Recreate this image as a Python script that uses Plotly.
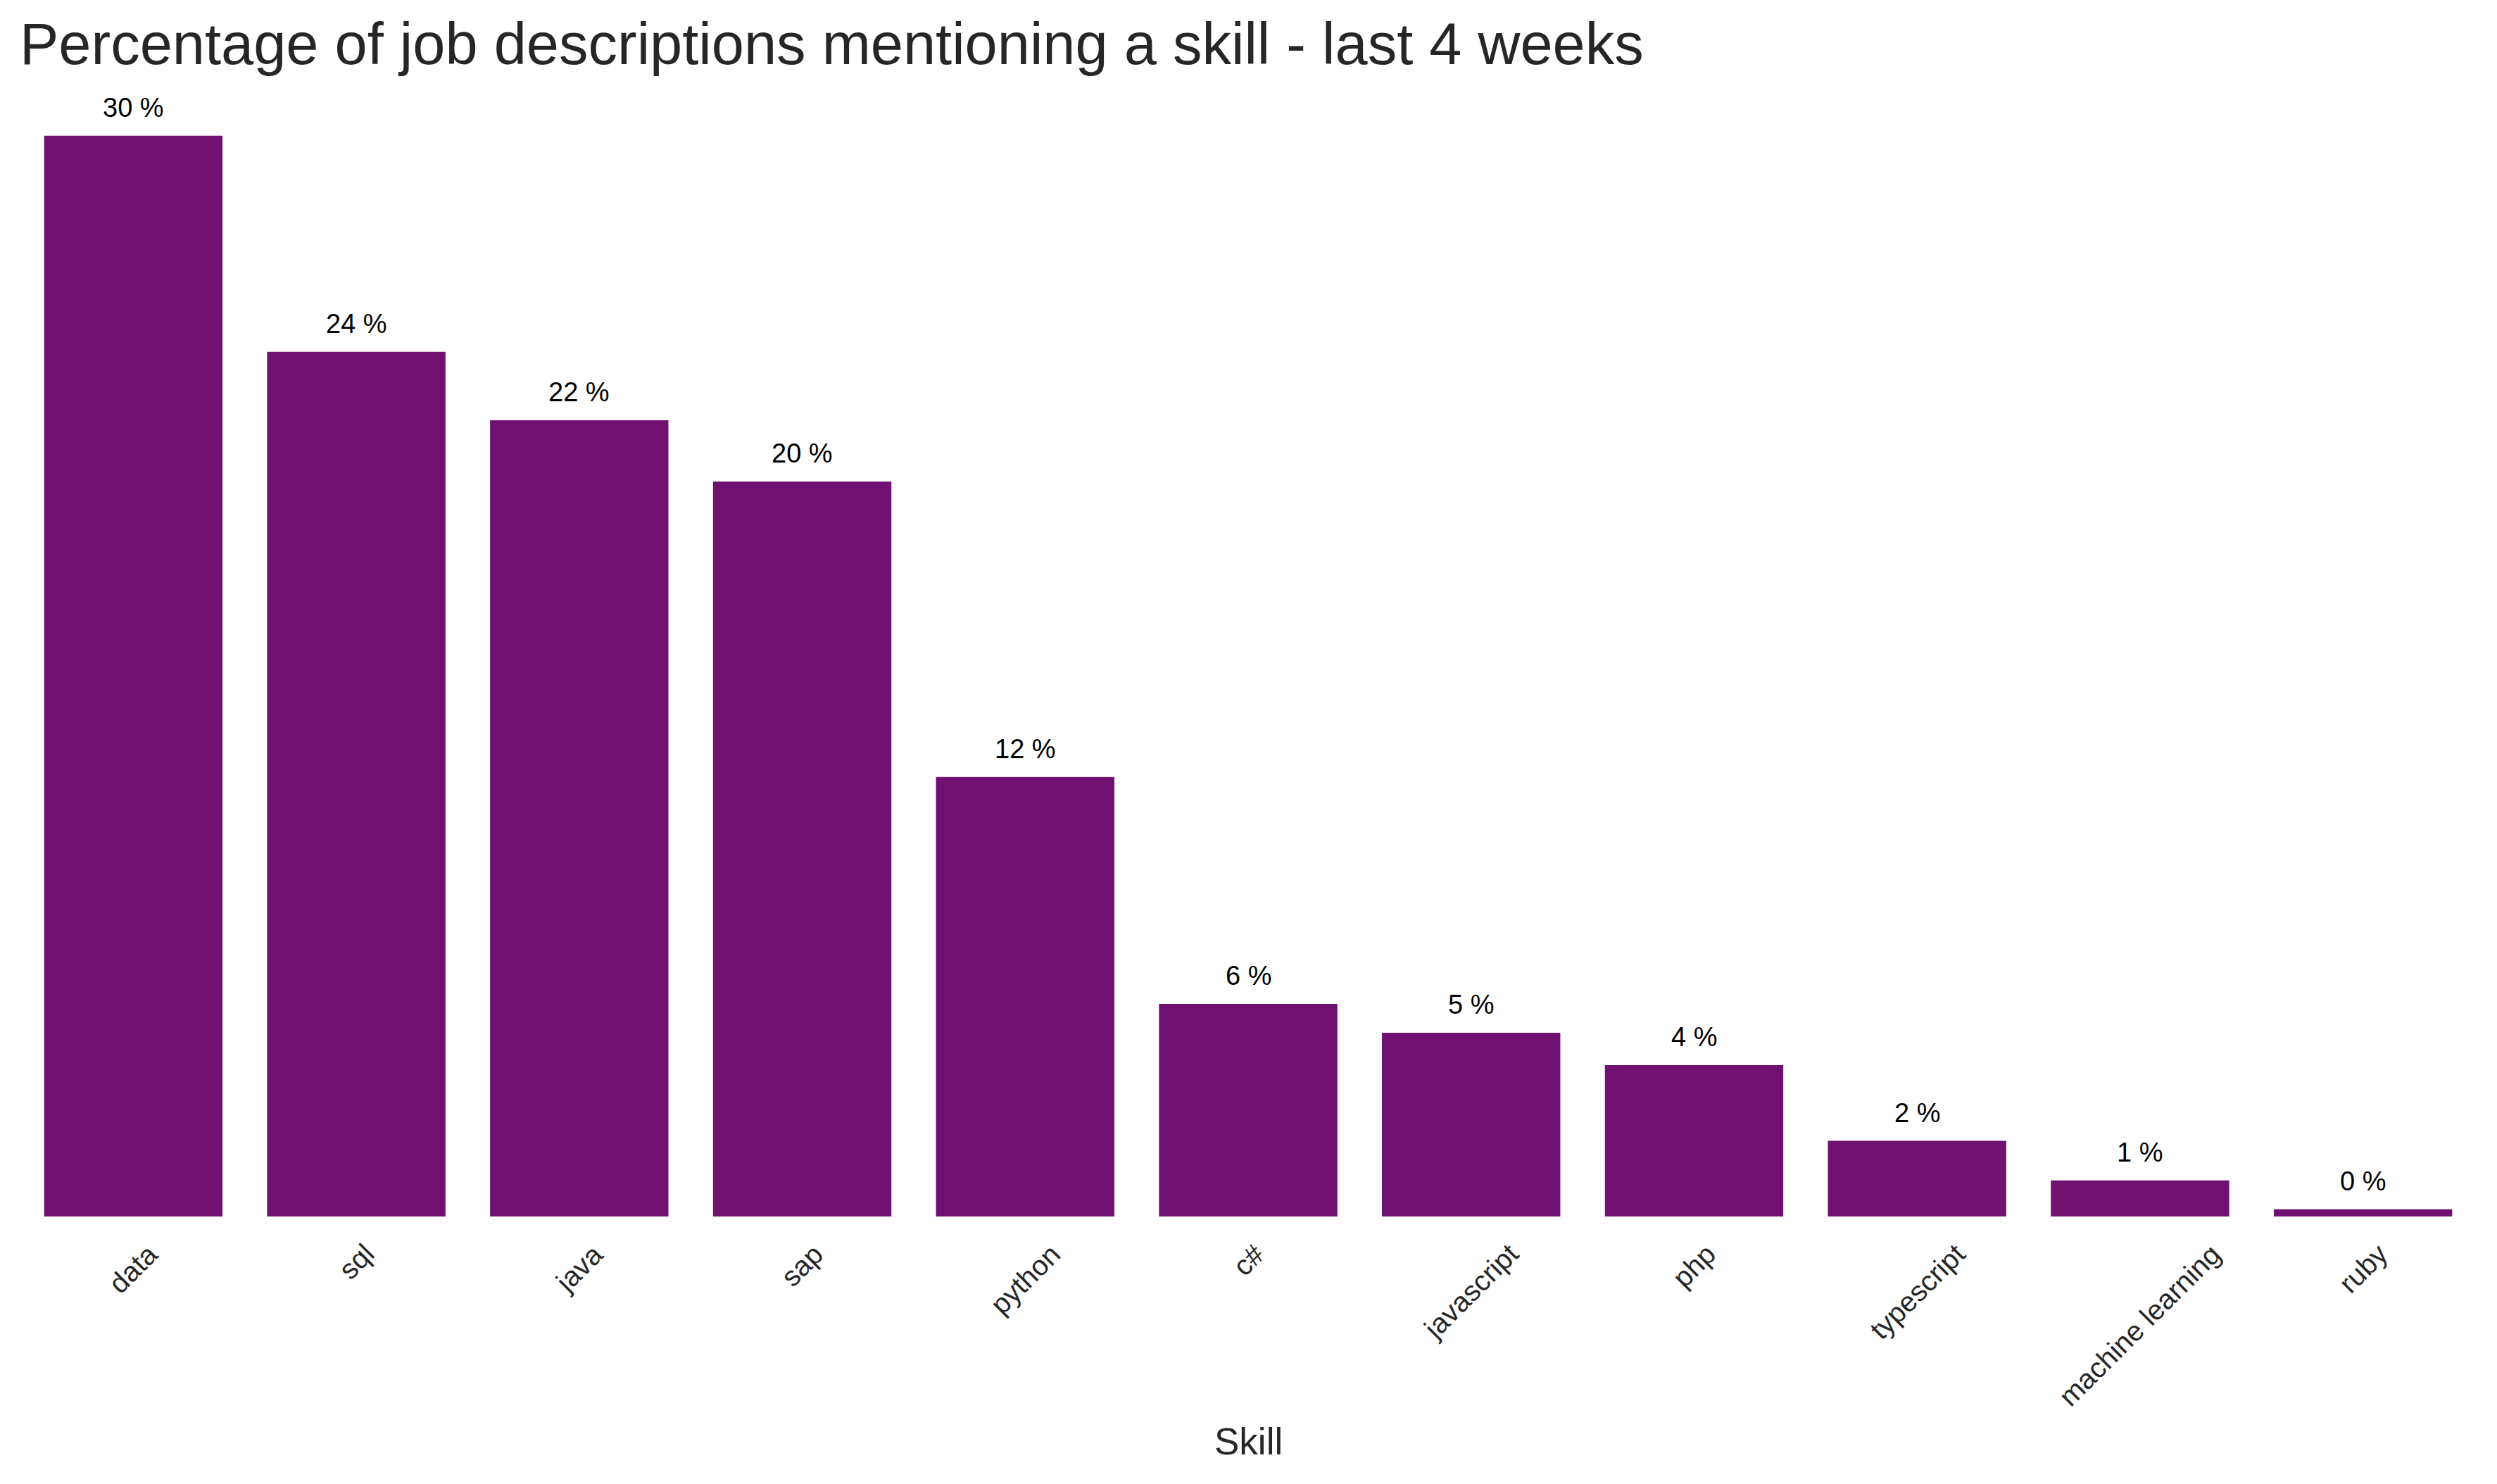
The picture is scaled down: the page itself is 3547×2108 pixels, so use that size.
import plotly.graph_objects as go

skills = ["data", "sql", "java", "sap", "python", "c#", "javascript", "php",
          "typescript", "machine learning", "ruby"]
percentages = [30.0, 24.0, 22.1, 20.4, 12.2, 5.9, 5.1, 4.2, 2.1, 1.0, 0.2]
value_labels = [f"{round(v)} %" for v in percentages]

TITLE = "Percentage of job descriptions mentioning a skill - last 4 weeks"
XLABEL = "Skill"
BAR_COLOR = "#701070"
TEXT_COLOR = "#262626"
FONT = "Liberation Sans, Arial, Helvetica, sans-serif"

W, H = 3547, 2108
fig = go.Figure()
fig.add_trace(go.Bar(
    x=skills, y=percentages, marker_color=BAR_COLOR,
    marker_line_width=0, width=0.8, hoverinfo="x+y",
))

annotations = []
for s, v, lab in zip(skills, percentages, value_labels):
    annotations.append(dict(
        x=s, y=v, xref="x", yref="y", text=lab, showarrow=False,
        xanchor="center", yanchor="bottom", yshift=17,
        font=dict(family=FONT, size=38, color="black"),
    ))
for s in skills:
    annotations.append(dict(
        x=s, y=0, xref="x", yref="y", text=s, showarrow=False,
        textangle=-45, xanchor="center", yanchor="top", yshift=-28,
        font=dict(family=FONT, size=40, color=TEXT_COLOR),
    ))
annotations.append(dict(
    x=0.5, y=0, xref="paper", yref="y", text=XLABEL, showarrow=False,
    xanchor="center", yanchor="middle", yshift=-319,
    font=dict(family=FONT, size=53, color=TEXT_COLOR),
))

fig.update_layout(
    width=W, height=H,
    paper_bgcolor="white", plot_bgcolor="white",
    margin=dict(l=31, r=32, t=116, b=380),
    showlegend=False,
    title=dict(text=TITLE, x=28 / W, xanchor="left", xref="container",
               y=1 - 62 / H, yanchor="middle", yref="container",
               font=dict(family=FONT, size=83, color=TEXT_COLOR)),
    annotations=annotations,
    bargap=0.2,
)
fig.update_xaxes(range=[-0.5, len(skills) - 0.5], showticklabels=False,
                 showgrid=False, zeroline=False, showline=False, ticks="")
fig.update_yaxes(range=[0, 31.5], visible=False, showgrid=False, zeroline=False)

fig.write_html("out.html")
